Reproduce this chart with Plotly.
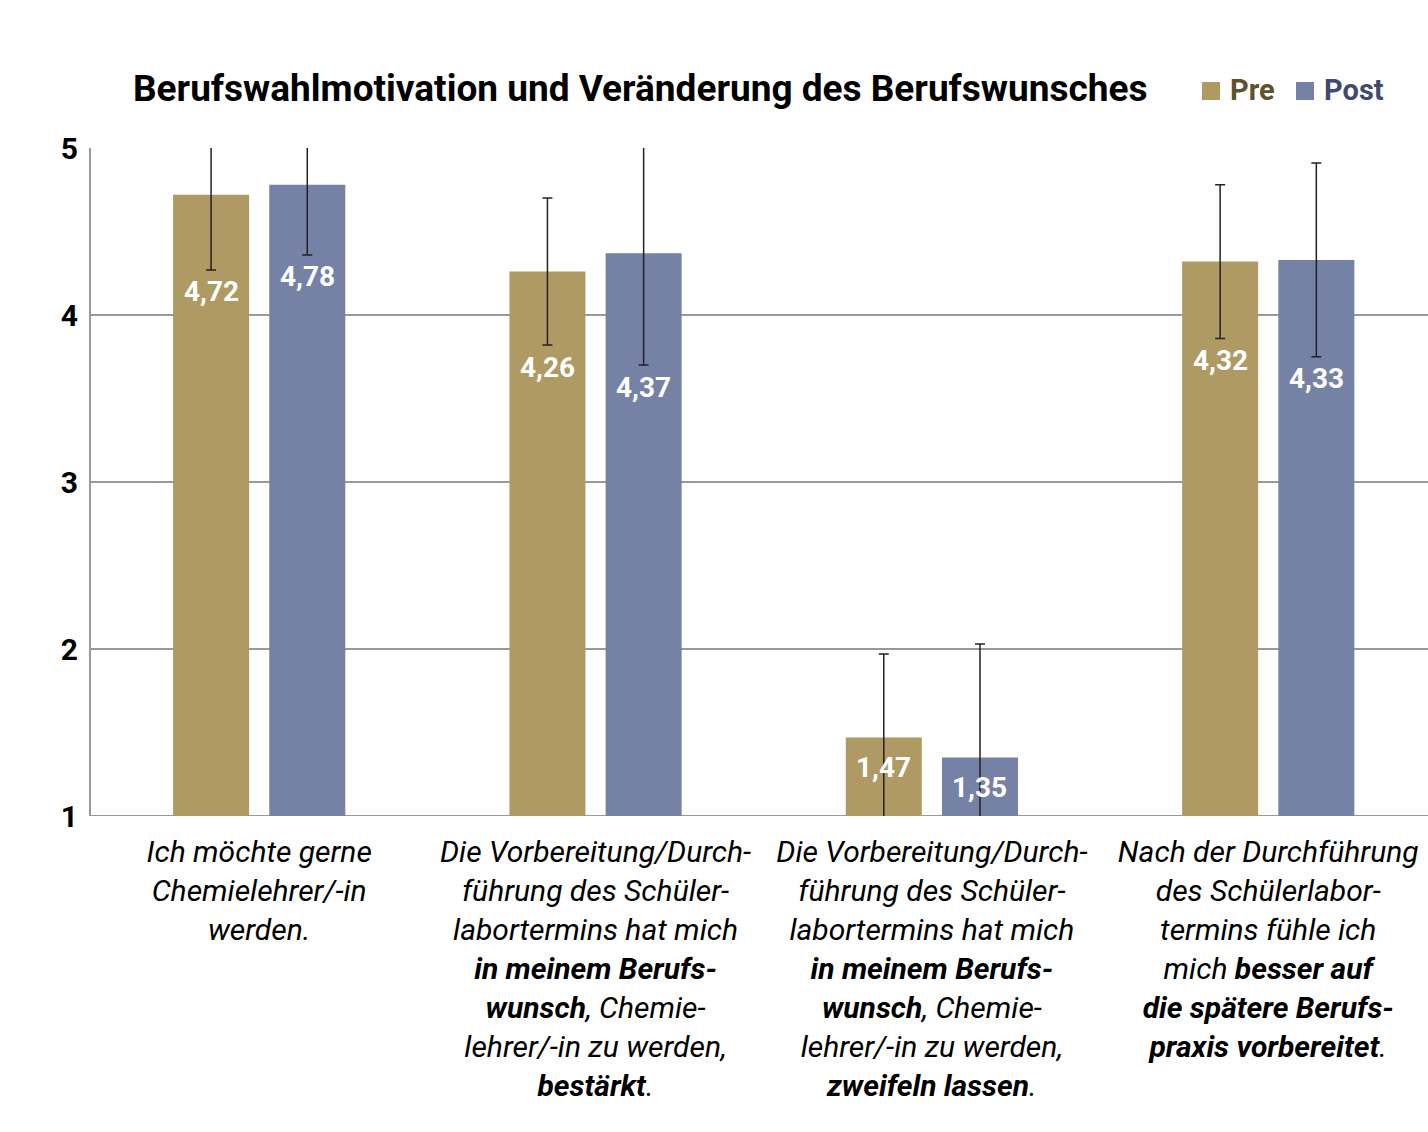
import plotly.graph_objects as go

categories = [
    "<i>Ich möchte gerne<br>Chemielehrer/-in<br>werden.</i>",
    "<i>Die Vorbereitung/Durch-<br>führung des Schüler-<br>labortermins hat mich<br><b>in meinem Berufs-</b><br><b>wunsch</b>, Chemie-<br>lehrer/-in zu werden,<br><b>bestärkt</b>.</i>",
    "<i>Die Vorbereitung/Durch-<br>führung des Schüler-<br>labortermins hat mich<br><b>in meinem Berufs-</b><br><b>wunsch</b>, Chemie-<br>lehrer/-in zu werden,<br><b>zweifeln lassen</b>.</i>",
    "<i>Nach der Durchführung<br>des Schülerlabor-<br>termins fühle ich<br>mich <b>besser auf</b><br><b>die spätere Berufs-</b><br><b>praxis vorbereitet</b>.</i>",
]
pre_values = [4.72, 4.26, 1.47, 4.32]
post_values = [4.78, 4.37, 1.35, 4.33]
pre_sd = [0.45, 0.44, 0.50, 0.46]
post_sd = [0.42, 0.67, 0.68, 0.58]
y_ticks = [1, 2, 3, 4, 5]

FONT = "Roboto"
PRE_COLOR = "#AE9A62"
POST_COLOR = "#7582A6"
PRE_TEXT = "#5E512E"
POST_TEXT = "#3F4A6E"

W, H = 1428, 1132
ML, MT, MB = 91, 148, 316
PH = H - MT - MB
x_idx = list(range(len(categories)))
BAR_W = 0.226
GAP = 0.06
Y_MIN = 1

fig = go.Figure()
for name, vals, sd, color, off in [
    ("Pre", pre_values, pre_sd, PRE_COLOR, -BAR_W - GAP / 2),
    ("Post", post_values, post_sd, POST_COLOR, GAP / 2),
]:
    fig.add_trace(go.Bar(
        x=x_idx, y=[v - Y_MIN for v in vals], base=Y_MIN,
        width=BAR_W, offset=off,
        marker=dict(color=color, line=dict(width=0)),
        name=name, showlegend=False,
        error_y=dict(type="data", array=sd, color="#222222", thickness=1.5, width=5),
        hoverinfo="skip",
    ))
    for i, v, s in zip(x_idx, vals, sd):
        low = v - s
        anchor, shift = (low, -22) if low > Y_MIN else (v, -30)
        fig.add_annotation(
            x=i + off + BAR_W / 2, y=anchor, xref="x", yref="y",
            text=f"<b>{v:.2f}</b>".replace(".", ","),
            showarrow=False, yanchor="middle", yshift=shift,
            font=dict(family=FONT, size=28, color="white"),
        )

# custom legend (squares + coloured labels)
def py(pix):
    return (MT + PH - pix) / PH

legend_items = [("Pre", PRE_COLOR, PRE_TEXT, 1202), ("Post", POST_COLOR, POST_TEXT, 1296)]
for label, col, tcol, px in legend_items:
    fig.add_shape(type="rect", xref="paper", yref="paper",
                  x0=(px - ML) / (W - ML), x1=(px + 18 - ML) / (W - ML),
                  y0=py(100), y1=py(82),
                  fillcolor=col, line=dict(width=0))
    fig.add_annotation(text=f"<b>{label}</b>", xref="paper", yref="paper",
                       x=(px + 26 - ML) / (W - ML), xanchor="left",
                       y=py(90), yanchor="middle",
                       showarrow=False, font=dict(family=FONT, size=29, color=tcol))

fig.update_layout(
    width=W, height=H,
    paper_bgcolor="white", plot_bgcolor="white",
    margin=dict(l=ML, r=0, t=MT, b=MB),
    title=dict(
        text="<b>Berufswahlmotivation und Veränderung des Berufswunsches</b>",
        x=133 / W, xref="container", xanchor="left",
        y=1 - 88 / H, yref="container", yanchor="middle",
        font=dict(family=FONT, size=37, color="black"),
    ),
    showlegend=False,
    xaxis=dict(
        tickmode="array", tickvals=x_idx, ticktext=categories,
        range=[-0.5, 3.475], showgrid=False, zeroline=False,
        showline=False, ticks="", ticklabelstandoff=15,
        tickfont=dict(family=FONT, size=30, color="black"),
        tickangle=0,
    ),
    yaxis=dict(
        range=[1, 5], tickvals=y_ticks,
        ticktext=[f"<b>{t}</b>" for t in y_ticks],
        showgrid=True, gridcolor="#999999", gridwidth=2,
        showline=True, linecolor="#999999", linewidth=2,
        zeroline=False, ticks="", ticklabelstandoff=5,
        tickfont=dict(family=FONT, size=30, color="black"),
    ),
)
fig.add_shape(type="line", xref="paper", yref="y", x0=0, x1=1, y0=1, y1=1,
              line=dict(color="#999999", width=2), layer="below")

fig.write_html("out.html", config={"displayModeBar": False})
with open("out.html", encoding="utf-8") as f:
    html = f.read()
html = html.replace("<head>", "<head><style>html,body{margin:0;padding:0;}</style>", 1)
with open("out.html", "w", encoding="utf-8") as f:
    f.write(html)
